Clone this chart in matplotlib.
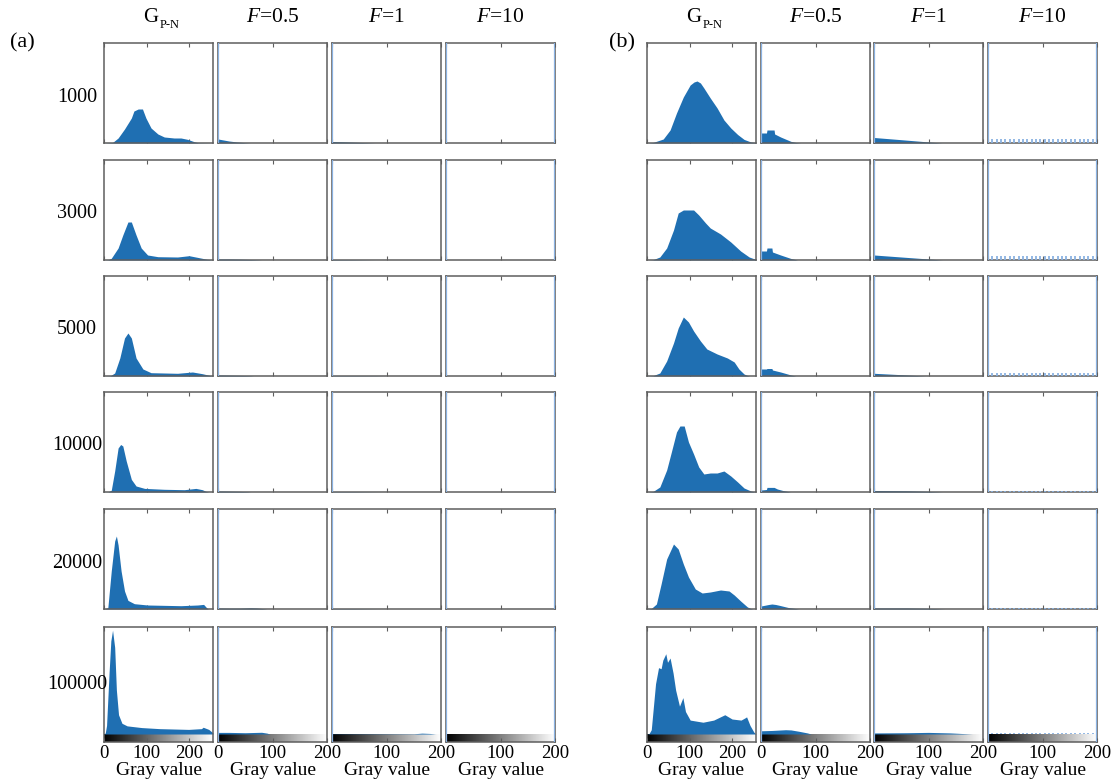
import numpy as np
import matplotlib
matplotlib.use("Agg")
import matplotlib.pyplot as plt

plt.rcParams["font.family"] = ["Liberation Serif", "DejaVu Serif"]
plt.rcParams["mathtext.fontset"] = "custom"
plt.rcParams["mathtext.rm"] = "Liberation Serif"
plt.rcParams["mathtext.it"] = "Liberation Serif:italic"

# row labels (number of photons) and column headers
ROWS = ["1000", "3000", "5000", "10000", "20000", "100000"]
F_VALUES = ["0.5", "1", "10"]

# ---- panel (a), G_P-N histograms: gray level vertices and heights (% of axis)
a_gpn_gray = [
    [0, 20, 33, 48, 64, 70, 80, 90, 98, 110, 126, 141, 164, 180, 195, 211, 220, 255],
    [0, 10, 17, 33, 44, 56, 64, 75, 87, 102, 126, 172, 199, 218, 241, 255],
    [0, 15, 25, 37, 48, 56, 64, 75, 91, 110, 172, 207, 230, 246, 255],
    [0, 10, 17, 25, 33, 39, 44, 52, 64, 75, 95, 141, 188, 215, 230, 238, 245],
    [0, 9, 17, 25, 29, 33, 40, 48, 56, 71, 102, 180, 219, 233, 240, 244],
    [0, 3, 6, 12, 16, 20, 25, 29, 34, 42, 54, 88, 130, 198, 228, 232, 245, 255],
]
a_gpn_count = [
    [0, 0.5, 5, 14, 25, 32, 34, 34, 25, 15, 9, 6, 5, 5, 3.7, 1.3, 0.3, 0],
    [0, 0.3, 1.7, 12, 25, 38, 38, 25, 12, 5, 3.3, 3, 4.3, 2.7, 0.7, 0],
    [0, 0.3, 3, 18, 38, 43, 38, 18, 7, 3.3, 2.7, 4, 2.3, 0.7, 0],
    [0, 0.2, 1.7, 21, 44, 47.5, 46, 31, 12.6, 6, 3.6, 2.7, 2.3, 3.6, 2.3, 0.7, 0],
    [0, 1.3, 38, 68, 73, 64, 38, 18, 8.6, 5.3, 4, 3.3, 4, 4.6, 1.3, 0],
    [0, 1, 8, 58, 87, 97, 81, 41, 18, 10, 7.6, 6, 5, 4.3, 5, 6.3, 4.3, 1],
]

# ---- panel (a), filtered histograms
a_f05_gray = [[0, 10, 20, 35, 50, 60], [0, 20, 40, 60, 75, 80], [0, 20, 40, 60, 65],
              [0, 20, 40, 55, 60], [0, 20, 40, 60, 70, 85, 90], [0, 20, 50, 80, 90, 95]]
a_f05_count = [[4, 3, 2, 1, 0.3, 0], [1, 1, 0.8, 0.5, 0.2, 0], [1, 0.8, 0.6, 0.3, 0],
               [1, 0.8, 0.6, 0.3, 0], [1, 0.8, 0.8, 1.2, 1, 0.3, 0], [1.5, 1.5, 1.2, 1.6, 0.8, 0]]
a_f1_gray = [[0, 20, 40, 60, 80], [0, 40, 80], [0, 40, 80, 100],
             [0, 40, 90], [0, 40, 90], [0, 150, 165, 180, 190]]
a_f1_count = [[1.5, 1.2, 0.8, 0.4, 0], [0.4, 0.3, 0], [0.3, 0.3, 0.2, 0],
              [0.3, 0.3, 0], [0.3, 0.3, 0], [0.2, 0.2, 0.8, 0.5, 0]]
a_f10_gray = [[0, 200]] * 6
a_f10_count = [[0, 0]] * 6
a_f10_comb = [0, 0, 0, 0, 0, 0]

# ---- panel (b), G_P-N histograms
b_gpn_gray = [
    [0, 14, 38, 54, 69, 85, 101, 110, 117, 125, 133, 148, 164, 180, 196, 212, 227, 243, 255],
    [0, 14, 30, 46, 62, 73, 85, 97, 109, 121, 137, 148, 172, 196, 219, 239, 255],
    [0, 14, 30, 46, 62, 73, 85, 97, 109, 125, 140, 164, 188, 204, 215, 227, 235, 240],
    [0, 14, 30, 46, 57, 69, 77, 87, 97, 109, 121, 133, 148, 164, 180, 196, 212, 227, 243, 251],
    [0, 10, 22, 33, 46, 62, 73, 85, 97, 113, 129, 148, 172, 192, 204, 219, 235, 243, 248],
    [0, 5, 10, 20, 27, 33, 37, 44, 48, 54, 61, 67, 76, 84, 90, 101, 131, 156, 182, 199,
     220, 229, 233, 241, 250, 255],
]
b_gpn_count = [
    [0, 0.5, 4, 13, 30, 46, 58, 61, 62, 60, 55, 45, 35, 23, 15, 8.5, 3.6, 1, 0.3],
    [0, 0.3, 3, 12, 30, 47, 50, 50, 50, 45, 37, 32, 26, 18, 9, 3, 0.5],
    [0, 0.3, 3, 15, 33, 48, 59, 54, 45, 35, 27, 22, 18, 14, 7, 2, 0.5, 0],
    [0, 0.5, 5, 22, 40, 60, 66, 66, 50, 38, 25, 18, 19, 19, 21, 16, 10, 4, 1, 0.3],
    [0, 0.5, 5, 25, 50, 65, 60, 45, 32, 20, 16, 17, 19, 18, 14, 8, 2, 0.5, 0],
    [0, 0.5, 4, 47, 62, 61, 69, 75, 67, 71, 57, 41, 26, 34, 21, 13, 11, 13, 18, 14,
     13, 15, 16, 8, 1.7, 0],
]

# ---- panel (b), filtered histograms
b_f05_gray = [[0, 10, 11, 24, 25, 36, 55, 64, 73], [0, 10, 11, 20, 21, 36, 55, 67],
              [0, 10, 11, 20, 21, 36, 55, 64], [0, 10, 11, 24, 30, 40, 54],
              [0, 14, 20, 27, 35, 50, 70], [0, 20, 45, 55, 70, 85, 92]]
b_f05_count = [[10, 10, 13, 13, 9, 6, 1.6, 0.5, 0], [9, 9, 12, 12, 8, 5, 1.5, 0],
               [7, 7, 7.5, 7.5, 6, 4, 1, 0], [2, 2.5, 4.6, 4.6, 3, 1.5, 0],
               [3, 4.5, 5, 4.5, 3.5, 1.5, 0], [3, 3.3, 4, 3.8, 2.5, 1, 0]]
b_f1_gray = [[0, 50, 94, 125], [0, 50, 100, 126], [0, 50, 95],
             [0, 60, 100, 126], [0, 60, 110, 130], [0, 60, 100, 140, 180]]
b_f1_count = [[5.5, 3.3, 1.3, 0], [5, 3, 1, 0], [2.7, 1.3, 0],
              [1.5, 1.2, 0.6, 0], [1, 1, 0.5, 0], [1, 1.2, 1.5, 1, 0]]
b_f10_gray = [[0, 200]] * 6
b_f10_count = [[0, 0]] * 6
b_f10_comb = [4, 4, 3.5, 1, 0.8, 0.8]
comb_levels = list(range(8, 200, 8))

BLUE = "#1f6fb2"
LIGHT = "#8ab2e2"
FRAME = "#5e5e5e"

W, H = 1117, 784
fig = plt.figure(figsize=(W / 100, H / 100), dpi=100)

col_left = {"a": [104, 218, 332, 446], "b": [647, 761, 874, 988]}
col_w = 109
row_top = [43, 160, 276, 392, 509, 627]
row_h = [100, 100, 100, 100, 100, 115]
bar_px = 8  # grayscale strip under the last row

panels = {
    "a": [(a_gpn_gray, a_gpn_count, None), (a_f05_gray, a_f05_count, None),
          (a_f1_gray, a_f1_count, None), (a_f10_gray, a_f10_count, a_f10_comb)],
    "b": [(b_gpn_gray, b_gpn_count, None), (b_f05_gray, b_f05_count, None),
          (b_f1_gray, b_f1_count, None), (b_f10_gray, b_f10_count, b_f10_comb)],
}

gradient = np.linspace(0, 1, 256).reshape(1, -1)

for pname, cols in panels.items():
    for c, (gx, gy, comb) in enumerate(cols):
        xmax = 255 if c == 0 else 200
        for r in range(6):
            left = col_left[pname][c]
            ax = fig.add_axes([left / W, 1 - (row_top[r] + row_h[r]) / H,
                               col_w / W, row_h[r] / H])
            last = r == 5
            ymin = 0
            if last:
                plot_px = row_h[r] - bar_px
                ymin = -100 * bar_px / plot_px
                ax.imshow(gradient, cmap="gray", aspect="auto",
                          extent=(0, xmax, ymin, 0), zorder=1)
            ax.fill_between(gx[r], gy[r], 0, color=BLUE, lw=0, zorder=2)
            if c > 0:
                ax.axvline(0.6, color=LIGHT, lw=1.6, zorder=3)
            if c == 3:
                ax.axvline(xmax - 0.6, color=LIGHT, lw=1.6, zorder=3)
            if comb is not None and comb[r] > 0:
                ax.vlines(comb_levels, 0, comb[r], color=LIGHT, lw=1.3, zorder=3)
            ax.set_xlim(0, xmax)
            ax.set_ylim(ymin, 100)
            ax.set_xticks([0, 100, 200])
            ax.set_yticks([])
            ax.tick_params(axis="x", direction="in", top=True, length=3,
                           width=0.8, color=FRAME, labelsize=13.5, pad=2)
            for s in ax.spines.values():
                s.set_color(FRAME)
                s.set_linewidth(1.1)
            if last:
                # the "0" of the third and fourth columns merges with the
                # neighbouring "200" in the original
                first = "0" if c < 2 else ""
                ax.set_xticklabels([first, "100", "200"])
                ax.set_xlabel("Gray value", fontsize=14, labelpad=0)
            else:
                ax.set_xticklabels([])

            if r == 0:
                cx = (left + col_w / 2) / W
                if c == 0:
                    fig.text(cx - 0.007, 1 - 18 / H, "G", fontsize=15,
                             ha="center", va="center")
                    fig.text(cx + 0.001, 1 - 25 / H, "P-N", fontsize=9,
                             ha="left", va="center")
                else:
                    fig.text(cx, 1 - 18 / H, r"$F$=" + F_VALUES[c - 1],
                             fontsize=15.5, ha="center", va="center")

for r in range(6):
    yc = row_top[r] + (row_h[r] - (bar_px if r == 5 else 0)) / 2 + 4
    fig.text(77 / W, 1 - yc / H, ROWS[r], fontsize=14.5, ha="center", va="center")

fig.text(22 / W, 1 - 43 / H, "(a)", fontsize=16, ha="center", va="center")
fig.text(622 / W, 1 - 43 / H, "(b)", fontsize=16, ha="center", va="center")

fig.savefig("out.png", dpi=100, facecolor="white")
